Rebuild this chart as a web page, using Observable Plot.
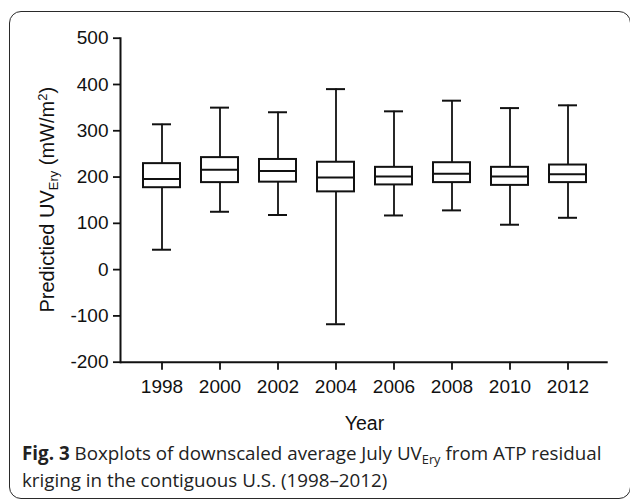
<!DOCTYPE html>
<html><head><meta charset="utf-8">
<script src="https://cdn.jsdelivr.net/npm/d3@7"></script>
<script src="https://cdn.jsdelivr.net/npm/@observablehq/plot@0.6"></script>
<style>
body{margin:0;background:#fff;}
#wrap{position:relative;width:630px;height:502px;overflow:hidden;background:#fff;}
#frame{position:absolute;left:9px;top:11px;width:622px;height:488px;border:1.5px solid #2a2a2a;border-radius:12px;box-sizing:border-box;}
#chart{position:absolute;left:0;top:0;}
.cap{position:absolute;left:22px;font-family:"Open Sans",sans-serif;font-size:18.8px;line-height:27px;color:#222;white-space:nowrap;}
.cap .s{font-size:0.68em;position:relative;top:0.3em;}
</style></head>
<body><div id="wrap"><div id="frame"></div><div id="chart"></div>
<div class="cap" id="cap1" style="top:440.2px"><b>Fig. 3</b> Boxplots of downscaled average July UV<span class="s">Ery</span> from ATP residual</div>
<div class="cap" id="cap2" style="top:467.2px">kriging in the contiguous U.S. (1998–2012)</div>
</div>
<script>
const years   = ["1998","2000","2002","2004","2006","2008","2010","2012"];
const lows    = [43, 125, 118, -118, 117, 128, 97, 112];
const q1s     = [177, 188, 189, 168, 183, 188, 182, 188];
const medians = [196, 216, 213, 199, 201, 207, 201, 206];
const q3s     = [229, 242, 238, 232, 221, 231, 221, 226];
const highs   = [314, 350, 340, 390, 342, 365, 349, 355];
const yTicks  = [-200, -100, 0, 100, 200, 300, 400, 500];
const yTickLabels = ["-200","-100","0","100","200","300","400","500"];

const data = years.map((year, i) => ({year, lo: lows[i], q1: q1s[i], med: medians[i], q3: q3s[i], hi: highs[i]}));
const W = 630, H = 440;
const ink = "#111";
const chart = Plot.plot({
  width: W, height: H,
  marginLeft: 120, marginRight: 22.3, marginTop: 37.7, marginBottom: H - 361.7,
  style: {fontFamily: "'Liberation Sans', Arial, sans-serif", fontSize: "19px", color: ink, background: "transparent", overflow: "visible"},
  x: {domain: years, paddingInner: 0.37, paddingOuter: 0.365, axis: null},
  y: {domain: [-200, 500], axis: null},
  marks: [
    Plot.ruleX(data, {x: "year", y1: "lo", y2: "q1", stroke: ink, strokeWidth: 1.8}),
    Plot.ruleX(data, {x: "year", y1: "q3", y2: "hi", stroke: ink, strokeWidth: 1.8}),
    Plot.tickY(data, {x: "year", y: "lo", insetLeft: 9, insetRight: 9, stroke: ink, strokeWidth: 2}),
    Plot.tickY(data, {x: "year", y: "hi", insetLeft: 9, insetRight: 9, stroke: ink, strokeWidth: 2}),
    Plot.barY(data, {x: "year", y1: "q1", y2: "q3", fill: "white", stroke: ink, strokeWidth: 2}),
    Plot.tickY(data, {x: "year", y: "med", stroke: ink, strokeWidth: 2}),
    Plot.axisX({tickSize: 8, tickPadding: 9, label: null, stroke: ink, strokeWidth: 1.8}),
    Plot.axisY({ticks: yTicks, tickFormat: d => yTickLabels[yTicks.indexOf(d)], tickSize: 7, tickPadding: 5, label: null, stroke: ink, strokeWidth: 1.8}),
    Plot.ruleY([-200], {stroke: ink, strokeWidth: 2}),
    Plot.frame({anchor: "left", stroke: ink, strokeWidth: 2})
  ]
});
document.getElementById("chart").appendChild(chart);

const svg = d3.select(chart);
// x-axis title
svg.append("text")
  .attr("x", 364.5).attr("y", 430)
  .attr("text-anchor", "middle")
  .attr("font-family", "'Liberation Sans', Arial, sans-serif")
  .attr("font-size", 19.5).attr("fill", ink)
  .text("Year");
// y-axis title with subscript and superscript
const yl = svg.append("text")
  .attr("transform", "translate(54,199.7) rotate(-90)")
  .attr("text-anchor", "middle")
  .attr("font-family", "'Liberation Sans', Arial, sans-serif")
  .attr("font-size", 20).attr("fill", ink);
yl.append("tspan").text("Predictied UV");
yl.append("tspan").attr("font-size", "0.65em").attr("dy", "0.3em").text("Ery");
yl.append("tspan").attr("dy", "-0.2em").text(" (mW/m");
yl.append("tspan").attr("font-size", "0.65em").attr("dy", "-0.55em").text("2");
yl.append("tspan").attr("dy", "0.36em").text(")");
</script>
</body></html>
